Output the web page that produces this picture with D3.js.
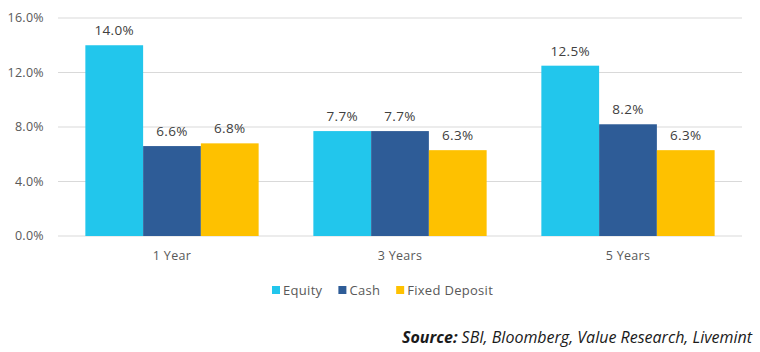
<!DOCTYPE html>
<html lang="en">
<head>
  <meta charset="UTF-8">
  <title>Returns: Equity vs Cash vs Fixed Deposit</title>
  <script src="https://d3js.org/d3.v7.min.js"></script>
  <style>
    body {
      margin: 0;
      background: #fff;
      font-family: "Open Sans", "Lato", sans-serif;
    }
    #chart { display: block; }
    .tick-label { font-size: 12.5px; fill: #595959; letter-spacing: 0.3px; }
    .value-label { font-size: 13.5px; fill: #404040; letter-spacing: 0.3px; }
    .legend-text { font-size: 13px; fill: #595959; letter-spacing: 0.3px; }
    .source { font-size: 16px; fill: #1a1a1a; font-style: italic; }
  </style>
</head>
<body>
<div id="chart"></div>

<script>
  const periods = ["1 Year", "3 Years", "5 Years"];
  const seriesNames = ["Equity", "Cash", "Fixed Deposit"];
  const seriesColors = ["#22c6ec", "#2e5c97", "#fec100"];
  const equity = [14.0, 7.7, 12.5];
  const cash = [6.6, 7.7, 8.2];
  const fixedDeposit = [6.8, 6.3, 6.3];
  const yTicks = [0, 4, 8, 12, 16];

  const values = [equity, cash, fixedDeposit];

  const W = 760, H = 352;
  const margin = {top: 18, right: 18, bottom: 116, left: 58},
        width = W - margin.left - margin.right,
        height = H - margin.top - margin.bottom;

  const root = d3.select("#chart")
    .append("svg")
    .attr("width", W)
    .attr("height", H);

  const svg = root.append("g")
    .attr("transform", `translate(${margin.left},${margin.top})`);

  const x0 = d3.scaleBand()
    .domain(periods)
    .range([0, width])
    .paddingInner(0.24)
    .paddingOuter(0.12);

  const x1 = d3.scaleBand()
    .domain(seriesNames)
    .range([0, x0.bandwidth()]);

  const y = d3.scaleLinear()
    .domain([0, 16])
    .range([height, 0]);

  // grid lines
  svg.selectAll("line.grid")
    .data(yTicks)
    .enter()
    .append("line")
    .attr("class", "grid")
    .attr("x1", 0)
    .attr("x2", width)
    .attr("y1", d => y(d))
    .attr("y2", d => y(d))
    .attr("stroke", "#d9d9d9")
    .attr("stroke-width", 1);

  // y labels
  svg.selectAll("text.ylab")
    .data(yTicks)
    .enter()
    .append("text")
    .attr("class", "tick-label ylab")
    .attr("x", -14)
    .attr("y", d => y(d))
    .attr("dy", "0.35em")
    .attr("text-anchor", "end")
    .text(d => d.toFixed(1) + "%");

  // x labels
  svg.selectAll("text.xlab")
    .data(periods)
    .enter()
    .append("text")
    .attr("class", "tick-label xlab")
    .attr("x", d => x0(d) + x0.bandwidth() / 2)
    .attr("y", height + 24)
    .attr("text-anchor", "middle")
    .text(d => d);

  const rows = periods.map((p, i) => ({
    period: p,
    items: seriesNames.map((s, j) => ({series: s, color: seriesColors[j], value: values[j][i]}))
  }));

  const groups = svg.selectAll("g.group")
    .data(rows)
    .enter()
    .append("g")
    .attr("class", "group")
    .attr("transform", d => `translate(${x0(d.period)},0)`);

  groups.selectAll("rect")
    .data(d => d.items)
    .enter()
    .append("rect")
    .attr("x", d => x1(d.series))
    .attr("y", d => y(d.value))
    .attr("width", x1.bandwidth())
    .attr("height", d => height - y(d.value))
    .attr("fill", d => d.color);

  groups.selectAll("text.value-label")
    .data(d => d.items)
    .enter()
    .append("text")
    .attr("class", "value-label")
    .attr("x", d => x1(d.series) + x1.bandwidth() / 2)
    .attr("y", d => y(d.value) - 10)
    .attr("text-anchor", "middle")
    .text(d => d.value.toFixed(1) + "%");

  // legend
  const legend = root.append("g")
    .attr("transform", "translate(272, 290)");

  let lx = 0;
  seriesNames.forEach((s, j) => {
    const item = legend.append("g").attr("transform", `translate(${lx},0)`);
    item.append("rect")
      .attr("x", 0)
      .attr("y", -4)
      .attr("width", 8)
      .attr("height", 8)
      .attr("fill", seriesColors[j]);
    const t = item.append("text")
      .attr("class", "legend-text")
      .attr("x", 11)
      .attr("y", 0)
      .attr("dy", "0.35em")
      .text(s);
    lx += 11 + t.node().getComputedTextLength() + 16;
  });

  // source note
  const src = root.append("text")
    .attr("class", "source")
    .attr("x", 752)
    .attr("y", 343)
    .attr("text-anchor", "end");
  src.append("tspan").attr("font-weight", "bold").text("Source:");
  src.append("tspan").text(" SBI, Bloomberg, Value Research, Livemint");
</script>
</body>
</html>
